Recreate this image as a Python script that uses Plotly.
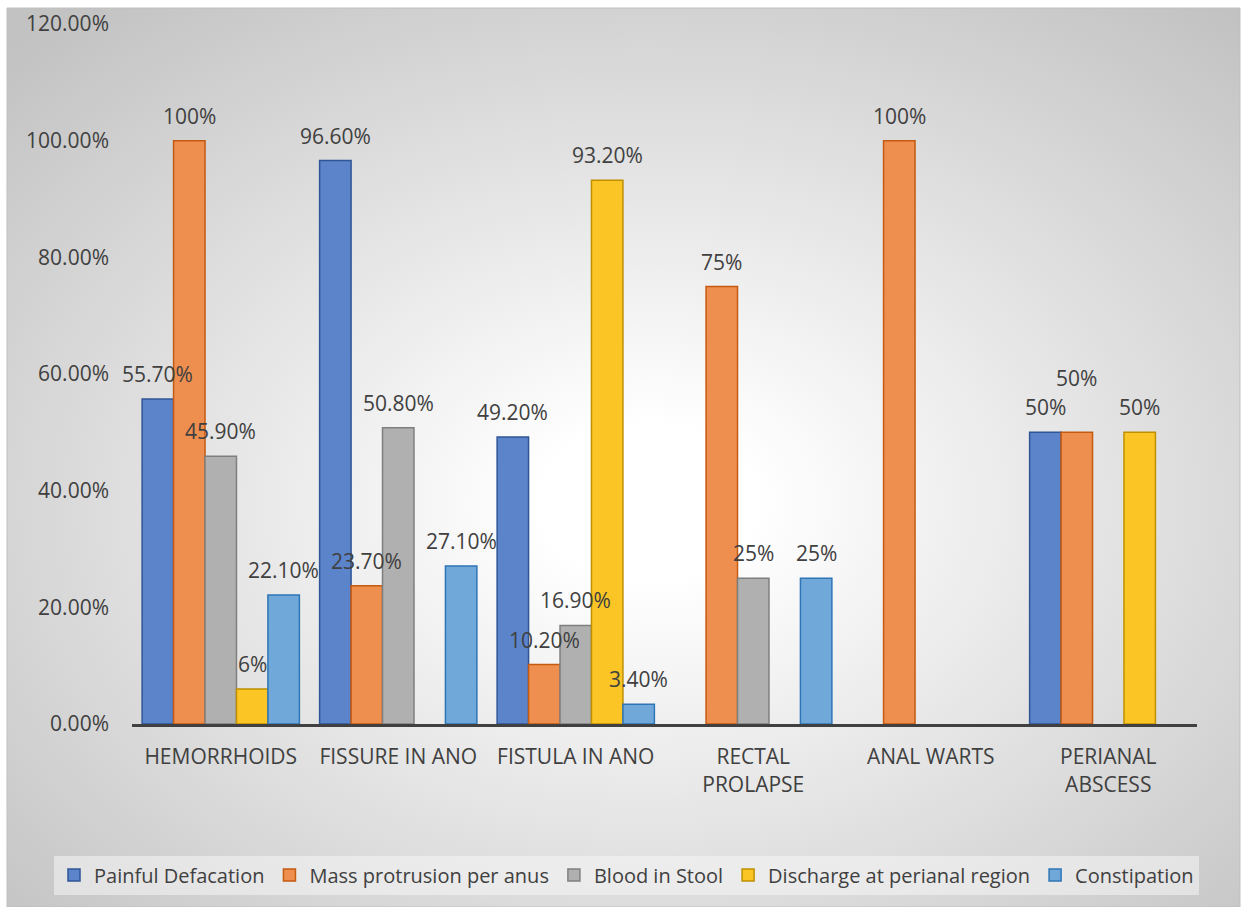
import base64
import plotly.graph_objects as go

categories = ["HEMORRHOIDS", "FISSURE IN ANO", "FISTULA IN ANO",
              "RECTAL<br>PROLAPSE", "ANAL WARTS", "PERIANAL<br>ABSCESS"]
series_names = ["Painful Defacation", "Mass protrusion per anus", "Blood in Stool",
                "Discharge at perianal region", "Constipation"]
painful = [55.7, 96.6, 49.2, None, None, 50]
mass = [100, 23.7, 10.2, 75, 100, 50]
blood = [45.9, 50.8, 16.9, 25, None, None]
discharge = [6, None, 93.2, None, None, 50]
constipation = [22.1, 27.1, 3.4, 25, None, None]
y_ticks = [0, 20, 40, 60, 80, 100, 120]
y_tick_labels = [f"{v:.2f}%" for v in y_ticks]

series_values = [painful, mass, blood, discharge, constipation]
fills = ["#5B84CA", "#EE8F4F", "#B0B0B0", "#FBC526", "#71A8DA"]
borders = ["#2F5597", "#C55A11", "#7F7F7F", "#BF9000", "#2E75B6"]

FONT = "Open Sans"
TXT = "#404040"
FS = 21
W, H = 1246, 907
ML, MR, MT, MB = 132, 49, 24, 183
PW = W - ML - MR
PH = H - MT - MB
BARGAP = 0.114
bar_px = PW / len(categories) * (1 - BARGAP) / len(series_names)

fig = go.Figure()
for name, vals, fc, bc in zip(series_names, series_values, fills, borders):
    fig.add_trace(go.Bar(
        name=name, x=categories, y=vals,
        marker=dict(color=fc, line=dict(color=bc, width=1.5)),
        hoverinfo="skip",
    ))


def fmt(v):
    return f"{v:.0f}%" if float(v).is_integer() else f"{v:.2f}%"


extra_lift = {(1, 5): 29}
annotations = []
for j, vals in enumerate(series_values):
    for i, v in enumerate(vals):
        if v is None:
            continue
        annotations.append(dict(
            x=categories[i], y=v, xref="x", yref="y",
            text=fmt(v), showarrow=False,
            xanchor="center", yanchor="bottom",
            xshift=(j - 2) * bar_px, yshift=9 + extra_lift.get((j, i), 0),
            font=dict(family=FONT, size=FS, color=TXT),
        ))

# chart-area radial gradient background
fx0 = (7 - ML) / PW
fx1 = (1240 - ML) / PW
fy1 = (H - MB - 8) / PH
fy0 = (H - MB - 907) / PH
svg = ('<svg xmlns="http://www.w3.org/2000/svg" width="1233" height="899" '
       'viewBox="0 0 1233 899" preserveAspectRatio="none"><defs>'
       '<radialGradient id="g" cx="0.52" cy="0.55" r="0.72">'
       '<stop offset="0" stop-color="#ffffff"/>'
       '<stop offset="0.12" stop-color="#ffffff"/>'
       '<stop offset="1" stop-color="#c2c2c2"/>'
       '</radialGradient></defs>'
       '<rect width="1233" height="899" fill="url(#g)"/></svg>')
src = "data:image/svg+xml;base64," + base64.b64encode(svg.encode()).decode()

fig.update_layout(
    width=W, height=H,
    margin=dict(l=ML, r=MR, t=MT, b=MB, autoexpand=False),
    paper_bgcolor="white", plot_bgcolor="rgba(0,0,0,0)",
    barmode="group", bargap=BARGAP, bargroupgap=0,
    font=dict(family=FONT, size=FS, color=TXT),
    images=[dict(source=src, xref="paper", yref="paper", x=fx0, y=fy1,
                 sizex=fx1 - fx0, sizey=fy1 - fy0, xanchor="left", yanchor="top",
                 sizing="stretch", layer="below")],
    shapes=[dict(type="rect", xref="paper", yref="paper", x0=fx0, x1=fx1,
                 y0=fy0, y1=fy1, line=dict(color="#bfbfbf", width=1),
                 fillcolor="rgba(0,0,0,0)", layer="below")],
    annotations=annotations,
    legend=dict(orientation="h", x=(54 - ML) / PW, xanchor="left",
                y=(H - MB - 875) / PH, yanchor="middle",
                bgcolor="rgba(245,245,245,0.55)",
                font=dict(family=FONT, size=20, color=TXT),
                itemwidth=30, tracegroupgap=0),
    xaxis=dict(range=[-0.5, len(categories) - 0.5], autorange=False,
               showline=True, linecolor="#404040", linewidth=3,
               showgrid=False, ticks="", ticklabelstandoff=12, automargin=False,
               tickfont=dict(family=FONT, size=FS, color=TXT), fixedrange=True),
    yaxis=dict(range=[0, 120], autorange=False, tickmode="array", tickvals=y_ticks,
               ticktext=y_tick_labels, automargin=False,
               showgrid=False, zeroline=False, showline=False, ticks="",
               ticklabelstandoff=22,
               tickfont=dict(family=FONT, size=FS, color=TXT), fixedrange=True),
    showlegend=True,
)

fig.write_html("out.html",
               config={"displayModeBar": False, "staticPlot": True},
               post_script="document.body.style.margin='0';"
                           "document.body.style.padding='0';")
